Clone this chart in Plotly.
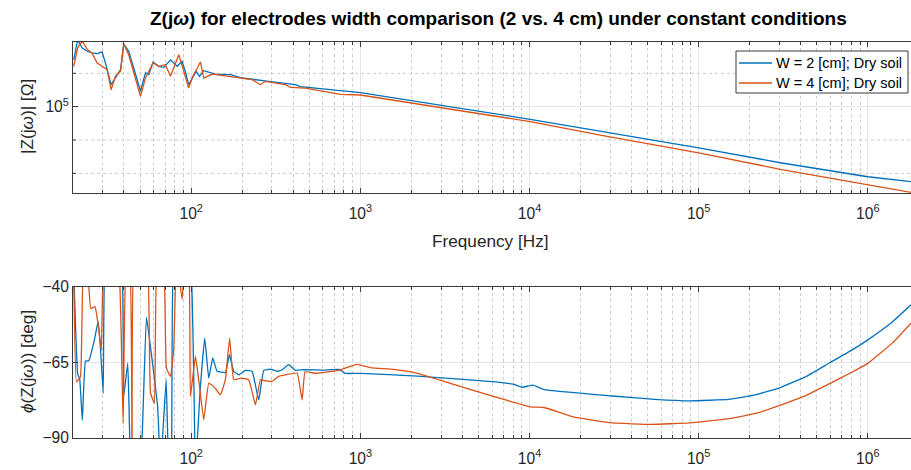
import plotly.graph_objects as go

# ---------------- data ----------------
mag_freq_w2 = [20.2, 21.3, 22.7, 24.3, 25.9, 27.8, 29.7, 31.1, 33.6, 35.6, 38.2, 39.9, 42.7, 45.7,
               50.1, 53.6, 56.1, 59.5, 64.3, 68.8, 75.4, 82.5, 88.3, 92.4, 96.6, 106.9, 111.8, 118.6,
               139, 170.5, 200, 287, 413, 442, 1000, 1.01e4, 2.62e4, 1.02e5, 3.04e5, 1e6, 1.8e6]
mag_w2 = [1.91e5, 2.51e5, 2.25e5, 2.15e5, 2.10e5, 2.08e5, 2.13e5, 1.83e5, 1.355e5, 1.486e5, 1.667e5,
          2.377e5, 2.15e5, 1.706e5, 1.237e5, 1.593e5, 1.556e5, 1.854e5, 1.747e5, 1.722e5, 1.91e5,
          1.747e5, 1.872e5, 1.615e5, 1.355e5, 1.63e5, 1.521e5, 1.644e5, 1.57e5, 1.556e5, 1.486e5,
          1.42e5, 1.355e5, 1.318e5, 1.213e5, 8.4e4, 7.15e4, 5.65e4, 4.61e4, 3.80e4, 3.55e4]

mag_freq_w4 = [20.2, 21.3, 22.7, 24.3, 25.9, 27.8, 29.7, 31.8, 33.6, 35.6, 38.2, 39.9, 42.7, 45.7,
               50.1, 53.6, 59.5, 64.3, 70.4, 75.4, 84.4, 90.3, 96.6, 101.2, 113.3, 118.6, 132.9,
               166.6, 229, 256.4, 274.5, 360, 386, 473, 762, 1000, 1.01e4, 2.62e4, 1.02e5, 3.04e5,
               1e6, 1.8e6]
mag_w4 = [1.747e5, 2.25e5, 2.48e5, 2.20e5, 2.10e5, 1.83e5, 1.747e5, 1.667e5, 1.265e5, 1.521e5,
          1.63e5, 2.377e5, 2.05e5, 1.63e5, 1.154e5, 1.486e5, 1.83e5, 1.747e5, 1.786e5, 1.521e5,
          2.05e5, 1.63e5, 1.294e5, 1.486e5, 1.854e5, 1.486e5, 1.57e5, 1.521e5, 1.452e5, 1.355e5,
          1.42e5, 1.355e5, 1.307e5, 1.294e5, 1.187e5, 1.175e5, 8.13e4, 6.76e4, 5.27e4, 4.21e4,
          3.39e4, 3.065e4]

ph_freq_w2 = [20.2, 21.3, 21.93, 22.7, 23.7, 24.79, 26.79, 28.15, 29.07, 30.16, 30.9, 33.3, 36.14,
              39.05, 39.9, 42.14, 44.02, 47.45, 50.78, 54.36, 58.7, 63.3, 65.8, 71.1, 73.6, 76.4,
              78.8, 88.3, 98.9, 105.9, 113.3, 120.2, 126.9, 134.0, 142.2, 159.2, 168.2, 178.3,
              190.9, 209.1, 229, 250.6, 268.3, 293.9, 321.9, 344.5, 377, 413, 462.3, 607.8, 751.3,
              813.2, 1000, 2169, 6272, 8000, 9000, 1.05e4, 1.217e4, 3.08e4, 5.5e4, 8.88e4, 1.51e5,
              2.2e5, 3.04e5, 4.36e5, 5.99e5, 8e5, 1e6, 1.4e6, 1.8e6]
ph_w2 = [-35, -68.6, -70.7, -84.1, -64.6, -64.4, -57.4, -51.4, -60.3, -75.2, -30, -25, -30,
         -35, -76.2, -65.2, -100, -105, -95, -50, -64.1, -79.6, -100, -70.7, -100, -95,
         -30, -25, -30, -100, -72.9, -56.9, -70.2, -63.5, -67.9, -68.3, -62.4, -67.9,
         -69.1, -67.6, -67.9, -77.4, -67.6, -67.2, -67.9, -67.4, -65.7, -67.6, -67.4, -67.5, -67.3,
         -68.6, -68.6, -69.5, -71.4, -72.2, -73.2, -72.5, -74.0, -76.1, -77.2, -77.7, -77.2,
         -75.6, -73.3, -69.5, -65.0, -61.0, -57.5, -51.5, -45.9]

ph_freq_w4 = [20.2, 20.97, 22.14, 23.16, 24.03, 25.47, 26.97, 28.09, 29.39, 30.41, 33.3, 37.13,
              39.58, 41.4, 43.13, 44.74, 46.17, 50.78, 54.8, 57.4, 60.6, 63.1, 68.2, 71.3, 75.4,
              78.8, 81.7, 88.3, 92.4, 96.3, 98.9, 105.9, 110.7, 118.6, 126.9, 135.8, 148.8, 159.2,
              168.7, 178.3, 195.4, 218.7, 239.6, 256.4, 274.5, 300.7, 329, 360, 422.6, 452.3, 471.2,
              546.6, 751.3, 953.5, 1146, 1578, 2169, 3688, 6272, 1.01e4, 1.217e4, 1.81e4, 3.08e4,
              5.23e4, 8.88e4, 1.51e5, 2.2e5, 3.04e5, 4.36e5, 5.99e5, 8e5, 1e6, 1.4e6, 1.8e6]
ph_w4 = [-35, -71.4, -69.7, -30, -30, -47.2, -46.5, -52, -61, -30, -25, -30,
         -85.2, -30, -30, -100, -30, -30, -30, -75.1, -78.5, -30, -30, -66.8, -69.6,
         -60.7, -30, -44.1, -30, -30, -76.2, -62.9, -70.7, -84.0, -71.8, -72.9, -75.7, -70.7,
         -56.9, -70.7, -70.2, -70.7, -79.0, -70.7, -71.1, -71.2, -69.6, -69.1, -68.5, -77.4, -68.1,
         -68.6, -67.5, -65.6, -66.7, -67.3, -68.6, -72.5, -76.4, -79.7, -79.9, -83.0, -85.0,
         -85.5, -85.0, -83.6, -81.8, -79.1, -75.8, -71.9, -68.3, -65.3, -58.5, -52.0]

series_names = ["W = 2 [cm]; Dry soil", "W = 4 [cm]; Dry soil"]
x_tick_vals = [1e2, 1e3, 1e4, 1e5, 1e6]
x_tick_text = ["10<sup>2</sup>", "10<sup>3</sup>", "10<sup>4</sup>", "10<sup>5</sup>", "10<sup>6</sup>"]
mag_tick_vals = [1e5]
mag_tick_text = ["10<sup>5</sup>"]
mag_minor_exp = [4.6, 4.8, 5.2]
ph_tick_vals = [-90, -65, -40]
ph_tick_text = ["\u221290", "\u221265", "\u221240"]

# ---------------- styling ----------------
BLUE = "#0072BD"
ORANGE = "#D95319"
FONT = "Liberation Sans, Arial, sans-serif"
TXT = "#262626"
AX = "#3a3a3a"
GRID = "#e3e3e3"
MGRID = "#cccccc"
W, H = 911, 470
ML, MR, MT, MB = 73, 0, 42, 32
PH = H - MT - MB
PW = W - ML - MR
TOP_Y0, TOP_Y1 = 42, 193      # pixel rows of top axes
BOT_Y0, BOT_Y1 = 287, 438     # pixel rows of bottom axes
MAG_RANGE = [4.4823, 5.3881]


def py(px):
    return (H - MB - px) / PH


def px_x(px):
    return (px - ML) / PW


minor_x = [m * 10 ** e for e in range(1, 7) for m in range(2, 10)]
minor_x = [v for v in minor_x if 20 <= v <= 1.8e6]

fig = go.Figure()
fig.add_trace(go.Scatter(x=mag_freq_w2, y=mag_w2, mode="lines", name=series_names[0],
                         line=dict(color=BLUE, width=1.3), xaxis="x", yaxis="y"))
fig.add_trace(go.Scatter(x=mag_freq_w4, y=mag_w4, mode="lines", name=series_names[1],
                         line=dict(color=ORANGE, width=1.3), xaxis="x", yaxis="y"))
fig.add_trace(go.Scatter(x=ph_freq_w2, y=ph_w2, mode="lines", name=series_names[0],
                         line=dict(color=BLUE, width=1.3, shape="spline", smoothing=0.3),
                         xaxis="x2", yaxis="y2"))
fig.add_trace(go.Scatter(x=ph_freq_w4, y=ph_w4, mode="lines", name=series_names[1],
                         line=dict(color=ORANGE, width=1.3, shape="spline", smoothing=0.3),
                         xaxis="x2", yaxis="y2"))

xcommon = dict(type="log", range=[1.301, 6.2553], tickvals=x_tick_vals, ticktext=x_tick_text,
               ticks="inside", ticklen=5, tickcolor=AX, showline=True, linecolor=AX, linewidth=1,
               mirror="allticks", showgrid=True, gridcolor=GRID, gridwidth=1, zeroline=False,
               tickfont=dict(family=FONT, size=15.6, color=TXT), automargin=False,
               ticklabelstandoff=6,
               minor=dict(tickvals=minor_x, ticks="inside", ticklen=3, tickcolor=AX, showgrid=True,
                          gridcolor=MGRID, griddash="dot", gridwidth=1))

fig.update_layout(
    width=W, height=H, margin=dict(l=ML, r=MR, t=MT, b=MB, autoexpand=False),
    paper_bgcolor="white", plot_bgcolor="white",
    font=dict(family=FONT, color=TXT),
    showlegend=False,
    xaxis=dict(domain=[0, 1], anchor="y", **xcommon),
    xaxis2=dict(domain=[0, 1], anchor="y2", **xcommon),
    yaxis=dict(domain=[py(TOP_Y1), py(TOP_Y0)], anchor="x", type="log", range=MAG_RANGE,
               tickvals=mag_tick_vals, ticktext=mag_tick_text, ticks="inside", ticklen=5,
               tickcolor=AX, showline=True, linecolor=AX, linewidth=1, mirror=False,
               showgrid=True, gridcolor=GRID, zeroline=False, automargin=False,
               tickfont=dict(family=FONT, size=15.6, color=TXT)),
    yaxis2=dict(domain=[py(BOT_Y1), py(BOT_Y0)], anchor="x2", range=[-90, -40],
                tickvals=ph_tick_vals, ticktext=ph_tick_text, ticks="inside", ticklen=5,
                tickcolor=AX, showline=True, linecolor=AX, linewidth=1, mirror=False,
                showgrid=True, gridcolor=GRID, zeroline=False, automargin=False,
                tickfont=dict(family=FONT, size=15.6, color=TXT)),
)

shapes = []
# dotted minor grid + small inside ticks of the magnitude axis
for e in mag_minor_exp:
    frac = (e - MAG_RANGE[0]) / (MAG_RANGE[1] - MAG_RANGE[0])
    yp = py(TOP_Y1) + frac * (py(TOP_Y0) - py(TOP_Y1))
    shapes.append(dict(type="line", xref="paper", yref="paper", x0=0, x1=1, y0=yp, y1=yp,
                       layer="below", line=dict(color=MGRID, width=1, dash="dot")))
    shapes.append(dict(type="line", xref="paper", yref="paper", x0=0, x1=px_x(ML + 3), y0=yp, y1=yp,
                       layer="above", line=dict(color=AX, width=1)))

# legend box (drawn by hand to match the original position and spacing)
LEG_X0, LEG_X1, LEG_Y0, LEG_Y1 = 736, 908, 51, 93
shapes.append(dict(type="rect", xref="paper", yref="paper", x0=px_x(LEG_X0), x1=px_x(LEG_X1),
                   y0=py(LEG_Y1), y1=py(LEG_Y0), layer="above", fillcolor="white",
                   line=dict(color=AX, width=1)))
for i, (name, col) in enumerate(zip(series_names, [BLUE, ORANGE])):
    yrow = 63 + 20 * i
    shapes.append(dict(type="line", xref="paper", yref="paper", x0=px_x(739), x1=px_x(772),
                       y0=py(yrow), y1=py(yrow), layer="above", line=dict(color=col, width=1.3)))
    fig.add_annotation(text=name, x=px_x(774), y=py(yrow), xref="paper", yref="paper",
                       showarrow=False, xanchor="left", yanchor="middle",
                       font=dict(family=FONT, size=14.5, color="#000000"))
fig.update_layout(shapes=shapes)

fig.add_annotation(text="<b>Z(j<i>\u03c9</i>) for electrodes width comparison (2 vs. 4 cm) under constant conditions</b>",
                   x=px_x(498), y=py(18), xref="paper", yref="paper", showarrow=False,
                   xanchor="center", yanchor="middle",
                   font=dict(family=FONT, size=19, color="#000000"))
fig.add_annotation(text="Frequency [Hz]", x=px_x(490), y=py(241), xref="paper", yref="paper",
                   showarrow=False, xanchor="center", yanchor="middle",
                   font=dict(family=FONT, size=17.2, color=TXT))
fig.add_annotation(text="|Z(j<i>\u03c9</i>)| [\u03a9]", x=px_x(27), y=py(117), xref="paper",
                   yref="paper", showarrow=False, xanchor="center", yanchor="middle", textangle=-90,
                   font=dict(family=FONT, size=17.2, color=TXT))
fig.add_annotation(text="<i>\u03d5</i>(Z(j<i>\u03c9</i>)) [deg]", x=px_x(27), y=py(362),
                   xref="paper", yref="paper", showarrow=False, xanchor="center",
                   yanchor="middle", textangle=-90,
                   font=dict(family=FONT, size=17.2, color=TXT))

fig.write_html("out.html", config={"displayModeBar": False},
               post_script="document.body.style.margin='0';document.body.style.padding='0';")
